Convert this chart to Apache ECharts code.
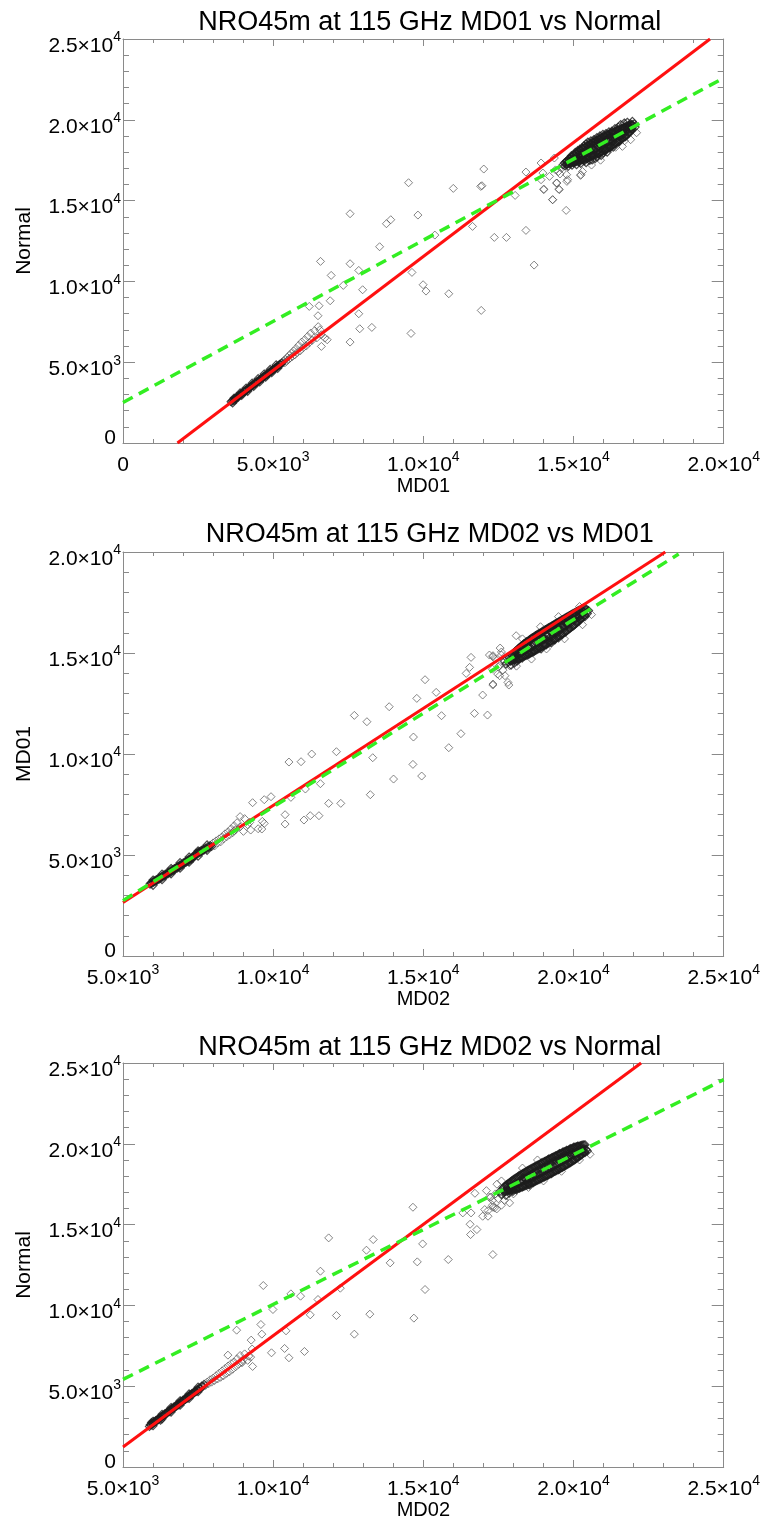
<!DOCTYPE html>
<html>
<head>
<meta charset="utf-8">
<script src="https://cdn.jsdelivr.net/npm/echarts@6/dist/echarts.min.js"></script>
<style>
html,body{margin:0;padding:0;background:#fff;}
#chart{width:763px;height:1523px;}
</style>
</head>
<body>
<div id="chart"></div>
<script>
// ---------------- Titles / axis names ----------------
const titles = ['NRO45m at 115 GHz MD01 vs Normal', 'NRO45m at 115 GHz MD02 vs MD01', 'NRO45m at 115 GHz MD02 vs Normal'];
const xNames = ['MD01', 'MD02', 'MD02'];
const yNames = ['Normal', 'MD01', 'Normal'];

// ---------------- Axis ranges and tick labels ----------------
const xRanges = [[0, 20000], [5000, 25000], [5000, 25000]];
const yRanges = [[0, 25000], [0, 20000], [0, 25000]];
const xTickValues = [[0, 5000, 10000, 15000, 20000], [5000, 10000, 15000, 20000, 25000], [5000, 10000, 15000, 20000, 25000]];
const xTickLabels = [['0', '5.0×10^3', '1.0×10^4', '1.5×10^4', '2.0×10^4'], ['5.0×10^3', '1.0×10^4', '1.5×10^4', '2.0×10^4', '2.5×10^4'], ['5.0×10^3', '1.0×10^4', '1.5×10^4', '2.0×10^4', '2.5×10^4']];
const yTickValues = [[0, 5000, 10000, 15000, 20000, 25000], [0, 5000, 10000, 15000, 20000], [0, 5000, 10000, 15000, 20000, 25000]];
const yTickLabels = [['0', '5.0×10^3', '1.0×10^4', '1.5×10^4', '2.0×10^4', '2.5×10^4'], ['0', '5.0×10^3', '1.0×10^4', '1.5×10^4', '2.0×10^4'], ['0', '5.0×10^3', '1.0×10^4', '1.5×10^4', '2.0×10^4', '2.5×10^4']];

// ---------------- Fit lines (end points) ----------------
const redLine1 = [[1813, 0], [19545, 25000]];
const greenLine1 = [[0, 2511], [20000, 22590]];
const redLine2 = [[5000, 2653], [23055, 20000]];
const greenLine2 = [[5000, 2742], [23500, 19900]];
const redLine3 = [[5000, 1236], [22250, 25000]];
const greenLine3 = [[5000, 5422], [25000, 23968]];

// ---------------- Plot 1: MD01 vs Normal ----------------
const p1Band = [[3600,2560],[3640,2610],[3680,2690],[3700,2620],[3730,2760],[3760,2780],[3790,2850],[3820,2800],[3850,2930],[3880,2950],[3900,2990],[3930,3020],[3960,3100],[3990,3060],[4020,3180],[4050,3170],[4080,3260],[4110,3280],[4140,3300],[4170,3400],[4200,3380],[4230,3470],[4260,3490],[4290,3530],[4320,3600],[4350,3590],[4380,3700],[4410,3690],[4440,3760],[4470,3810],[4500,3800],[4530,3900],[4560,3910],[4590,3960],[4620,4020],[4650,4010],[4680,4110],[4710,4120],[4740,4180],[4770,4230],[4800,4220],[4830,4320],[4860,4330],[4890,4390],[4920,4440],[4950,4430],[4980,4530],[5010,4540],[5040,4600],[5070,4650],[5100,4640],[5130,4740],[5160,4760],[5190,4800],[5220,4870],[5250,4850],[5280,4950],
[3650,2480],[3750,2700],[3950,2950],[4150,3200],[4350,3500],[4550,3780],[4750,4070],[4950,4350],[5150,4620],[3700,2780],[3900,3100],[4100,3400],[4300,3700],[4500,3980],[4700,4270],[4900,4550],[5100,4830]];
const p1Tail = [[5320,4980],[5350,5100],[5380,4950],[5410,5180],[5440,5050],[5470,5300],[5500,5150],[5530,5420],[5560,5250],[5600,5550],[5640,5350],[5680,5700],[5720,5450],[5760,5850],[5800,5600],[5850,6050],[5900,5700],[5950,6250],[6000,5900],[6050,6400],[6100,6000],[6150,6600],[6200,6200],[6250,6800],[6300,6350],[6380,6950],[6450,6500],[6500,7200],[6600,6700]];
const p1Blob = [[14650,17210],[14700,17330],[14720,17150],[14760,17420],[14790,17260],[14820,17120],
[14860,17600],[14880,17280],[14910,17450],[14930,17780],[14950,17190],[14980,17560],[15000,17350],[15010,17850],
[15040,17420],[15060,17980],[15080,17700],[15100,17220],[15120,17560],[15140,18100],[15160,17850],[15180,17400],[15200,17660],[15210,18180],
[15240,17300],[15260,17920],[15280,18250],[15300,17580],[15320,17780],[15340,18380],[15360,17450],[15380,18050],[15400,17880],[15410,18500],[15420,17350],
[15450,18200],[15460,17600],[15480,18620],[15500,17900],[15520,18350],[15540,17480],[15560,18100],[15580,18700],[15590,17750],[15600,18250],[15620,17520],
[15650,18450],[15660,17820],[15680,18780],[15700,18150],[15720,17600],[15740,18550],[15760,18000],[15780,18900],[15790,17700],[15800,18350],[15820,18650],
[15850,17900],[15860,18500],[15880,19000],[15900,18250],[15920,17800],[15940,18750],[15960,18450],[15980,19100],[15990,17950],[16000,18600],[16020,18250],
[16050,18900],[16060,18100],[16080,19150],[16100,18550],[16120,18000],[16140,18850],[16160,18400],[16180,19250],[16190,18250],[16200,18700],[16220,19000],
[16250,18350],[16260,18950],[16280,19300],[16300,18650],[16320,18300],[16340,19150],[16360,18850],[16380,19450],[16390,18550],[16400,19000],
[16450,18700],[16470,19350],[16490,19550],[16510,18950],[16530,18650],[16550,19250],[16570,19700],[16590,19050],[16600,18850],
[16650,19450],[16670,19100],[16690,19800],[16710,19300],[16730,18950],[16750,19600],[16770,19350],[16790,19850],
[16850,19500],[16870,19250],[16900,19750],[16930,19450],[16960,19900],[16990,19600],[17020,19750],[17050,19550]];
const p1Core = [[14760,17420],[14760,17250],[14800,17480],[14800,17290],[14840,17560],[14840,17300],[14880,17620],[14880,17330],[14920,17700],[14920,17340],[14960,17720],[14960,17380],[15000,17800],[15000,17370],[15040,17860],[15040,17400],[15080,17900],[15080,17410],[15120,17960],[15120,17430],[15160,18020],[15160,17460],[15200,18080],[15200,17480],[15240,18120],[15240,17500],[15280,18170],[15280,17520],[15320,18230],[15320,17540],[15360,18270],[15360,17560],[15400,18330],[15400,17600],[15440,18380],[15440,17610],[15480,18430],[15480,17650],[15520,18470],[15520,17680],[15560,18520],[15560,17700],[15600,18550],[15600,17740],[15640,18600],[15640,17760],[15680,18640],[15680,17800],[15720,18690],[15720,17820],[15760,18720],[15760,17860],[15800,18760],[15800,17900],[15840,18810],[15840,17930],[15880,18840],[15880,17970],[15920,18880],[15920,18010],[15960,18920],[15960,18050],[16000,18960],[16000,18090],[16040,18990],[16040,18140],[16080,19030],[16080,18170],[16120,19060],[16120,18220],[16160,19100],[16160,18260],[16200,19130],[16200,18310],[16240,19170],[16240,18350],[16280,19200],[16280,18400],[16320,19240],[16320,18440],[16360,19260],[16360,18500],[16400,19300],[16400,18540],[16440,19330],[16440,18600],[16480,19370],[16480,18640],[16520,19390],[16520,18700],[16560,19430],[16560,18750],[16600,19450],[16600,18810],[16640,19490],[16640,18860],[16680,19510],[16680,18930],[16720,19550],[16720,18980],[16760,19570],[16760,19050],[16800,19600],[16800,19110],[16840,19630],[16840,19180],[16880,19650],[16880,19250],[16920,19680],[16920,19320],[16960,19700],[16960,19400],
[14900,17470],[15100,17690],[15300,17860],[15500,18070],[15700,18280],[15900,18470],[16100,18680],[16300,18880],[16500,19080],[16700,19290],[16900,19470],[15000,17600],[15200,17750],[15400,17990],[15600,18180],[15800,18390],[16000,18560],[16200,18800],[16400,18960],[16600,19190],[16800,19360]];
const p1Out = [[9508,16106],[10997,15755],[11911,15879],[11950,15920],[12012,16952],[13416,16766],[13980,16705],[14303,15054],[14755,14394],[14010,15714],[14510,15714],[14430,16085],[13056,15322],[13416,13156],[13688,11010],[12363,12723],[12766,12723],[11637,13404],[7560,14188],[8770,13569],[8915,13816],[9819,14105],[8544,12145],[10383,12867],[6576,11238],[7560,11093],[7850,10680],[6931,10371],[7334,9752],[7979,9484],[6898,8803],[9621,10557],[9992,9793],[10089,9401],[10847,9236],[11927,8205],[6527,8494],[6202,8452],[6492,7875],[7850,7999],[7882,7070],[8285,7153],[7560,6245],[9589,6781],[6557,7008],[6718,6493],[6799,6389],[6605,5977],[14781,16189],[15233,16560],
[13919,17327],[13919,16293],[14009,15675],[14528,15675],[14307,15057],[15245,16603],[14803,16293],[14449,16089],[14770,16603],[16902,18769],[16626,18355],[14362,17636],
[14500,16800],[14600,17000],[14400,16900],[15300,16800],[15600,17200],[16400,18300],[16700,18700],[17100,19200],[15900,17500],[14200,16500],[14550,16650]];

// ---------------- Plot 2: MD02 vs MD01 ----------------
const p2Band = [[5900,3560],[5930,3620],[5960,3590],[5990,3670],[6020,3650],[6050,3720],[6080,3700],[6110,3780],[6140,3750],[6170,3830],[6200,3800],[6230,3890],[6260,3860],[6290,3940],[6320,3910],[6350,4000],[6380,3960],[6410,4050],[6440,4020],[6470,4110],[6500,4080],[6530,4160],[6560,4130],[6590,4220],[6620,4190],[6650,4270],[6680,4240],[6710,4330],[6740,4300],[6770,4380],[6800,4350],[6830,4440],[6860,4410],[6890,4500],[6920,4460],[6950,4550],[6980,4520],[7010,4610],[7040,4580],[7070,4660],[7100,4640],[7130,4720],[7160,4690],[7190,4780],[7220,4750],[7250,4830],[7280,4800],[7310,4890],[7340,4860],[7370,4940],
[7400,5000],[7430,5080],[7460,5040],[7490,5120],[7520,5090],[7550,5170],[7580,5140],[7610,5230],[7640,5190],[7670,5280],[7700,5250],[7740,5340],[7780,5300],[7820,5400],[7860,5370],[7900,5460],[7950,5420],
[6000,3500],[6000,3760],[6300,3780],[6300,4050],[6600,4070],[6600,4330],[6900,4350],[6900,4620],[7200,4640],[7200,4900],[7500,4940],[7500,5200],[7800,5230],[7800,5500]];
const p2Tail = [[8000,5600],[8050,5450],[8100,5700],[8150,5600],[8200,5800],[8250,5650],[8300,5900],[8350,5800],[8400,6050],[8450,5900],[8500,6150],[8550,6000],[8600,6300],[8650,6100],[8700,6450],[8750,6250],[8800,6600],[8900,6400],[9009,6170],[9251,6236],[9219,6615],[9315,7589],[9622,6286],[9639,6665],[9703,6566],[9703,7738],[9928,7886],[10397,6995],[10397,6533],[10590,7853],[9500,6300],[9050,6800],[8900,6900],[9150,6500],[8700,6200]];
const p2Blob = [[17700,14600],[17750,14450],[17780,14750],[17820,14550],[17860,14800],[17900,14620],[17920,14400],
[17960,14900],[18000,14700],[18030,14500],[18060,15050],[18090,14800],[18120,14600],[18150,15150],[18180,14950],[18200,14700],
[18240,15300],[18260,15000],[18290,14750],[18320,15200],[18350,15450],[18380,14900],[18400,15150],[18430,15550],[18460,15000],[18490,15300],
[18520,14950],[18550,15600],[18580,15250],[18600,15050],[18630,15750],[18660,15400],[18690,15100],[18720,15550],[18750,15850],[18780,15250],
[18800,15650],[18830,15300],[18860,15950],[18890,15600],[18920,15200],[18950,15800],[18980,16050],[19000,15450],[19030,15700],[19060,16150],
[19090,15400],[19120,15900],[19150,15600],[19180,16250],[19200,15750],[19230,16050],[19260,15500],[19290,16350],[19320,15850],[19350,16100],
[19380,15650],[19410,16450],[19440,16000],[19470,16250],[19500,15750],[19530,16550],[19560,16150],[19590,16400],[19620,15900],[19650,16650],
[19680,16250],[19710,16500],[19740,16050],[19770,16750],[19800,16400],[19830,16650],[19860,16200],[19890,16850],[19920,16500],[19950,16750],
[19980,16350],[20010,16950],[20040,16650],[20070,16850],[20100,16550],[20130,17050],[20160,16750],[20190,16950],[20220,16650],[20260,17150],
[20300,16900],[20340,17050],[20380,16800],[20420,17150],[20460,16950],[20500,17100]];
const p2Core = [[17900,14850],[17900,14600],[17940,14900],[17940,14620],[17980,14960],[17980,14640],[18020,15020],[18020,14650],[18060,15080],[18060,14670],[18100,15130],[18100,14690],[18140,15190],[18140,14700],[18180,15240],[18180,14730],[18220,15290],[18220,14750],[18260,15340],[18260,14780],[18300,15390],[18300,14800],[18340,15440],[18340,14830],[18380,15480],[18380,14860],[18420,15530],[18420,14880],[18460,15570],[18460,14910],[18500,15620],[18500,14940],[18540,15660],[18540,14970],[18580,15700],[18580,15000],[18620,15740],[18620,15030],[18660,15780],[18660,15060],[18700,15820],[18700,15100],[18740,15860],[18740,15130],[18780,15900],[18780,15160],[18820,15930],[18820,15200],[18860,15970],[18860,15230],[18900,16000],[18900,15270],[18940,16040],[18940,15300],[18980,16080],[18980,15340],[19020,16110],[19020,15370],[19060,16150],[19060,15410],[19100,16180],[19100,15440],[19140,16220],[19140,15480],[19180,16250],[19180,15520],[19220,16290],[19220,15550],[19260,16320],[19260,15590],[19300,16360],[19300,15630],[19340,16390],[19340,15660],[19380,16430],[19380,15700],[19420,16460],[19420,15740],[19460,16500],[19460,15780],[19500,16530],[19500,15820],[19540,16570],[19540,15860],[19580,16600],[19580,15900],[19620,16640],[19620,15940],[19660,16670],[19660,15980],[19700,16710],[19700,16020],[19740,16740],[19740,16060],[19780,16780],[19780,16110],[19820,16810],[19820,16150],[19860,16850],[19860,16200],[19900,16880],[19900,16240],[19940,16910],[19940,16290],[19980,16950],[19980,16330],[20020,16980],[20020,16380],[20060,17010],[20060,16430],[20100,17050],[20100,16480],[20140,17080],[20140,16530],[20180,17110],[20180,16580],[20220,17140],[20220,16640],[20260,17170],[20260,16700],[20300,17200],[20300,16760],[20340,17220],[20340,16820],[20380,17250],[20380,16880],
[18000,14820],[18200,15010],[18400,15200],[18600,15380],[18800,15560],[19000,15750],[19200,15930],[19400,16120],[19600,16300],[19800,16490],[20000,16680],[20200,16860],[18100,14900],[18300,15100],[18500,15290],[18700,15460],[18900,15660],[19100,15840],[19300,16030],[19500,16210],[19700,16400],[19900,16590],[20100,16770],[20300,16950]];
const p2Out = [[15056,13678],[14782,12753],[15427,13050],[13863,12341],[12702,11912],[13121,11598],[15605,11896],[14670,10840],[16250,11005],[15847,10312],[16588,14783],[16540,14288],[16427,13991],[17556,15245],[17314,14816],[17524,14370],[17475,13958],[17717,13876],[17314,13414],[17846,13414],[16975,12919],[16701,12011],[17136,11928],[12106,10113],[11283,9998],[10525,9602],[10928,9618],[13315,9816],[14653,9486],[14008,8760],[14944,8909],[13234,7985],[11073,8266],[11573,8530],[11848,7556],[12251,7556],[11234,6946],[11524,6946],[11025,6731],
[17318,13465],[17815,13545],[17540,13876],[17871,14371],[17318,14866],[18090,15856],[17600,15050],
[17400,14700],[17500,14300],[17600,14900],[17300,14200],[17650,14150],[18100,14350],[18600,14700],[19100,15200],[19700,15700],[20300,16400],[20600,16900],[17200,14900],[18300,15700],[18900,16300],[19500,16800],[20200,17300]];

// ---------------- Plot 3: MD02 vs Normal ----------------
const p3Band = [[5880,2510],[5910,2620],[5940,2600],[5970,2700],[6000,2680],[6030,2790],[6060,2770],[6090,2870],[6120,2850],[6150,2950],[6180,2930],[6210,3040],[6240,3010],[6270,3120],[6300,3100],[6330,3200],[6360,3180],[6390,3290],[6420,3260],[6450,3370],[6480,3350],[6510,3450],[6540,3430],[6570,3540],[6600,3510],[6630,3620],[6660,3600],[6690,3710],[6720,3680],[6750,3790],[6780,3760],[6810,3870],[6840,3850],[6870,3960],[6900,3930],[6930,4040],[6960,4010],[6990,4120],[7020,4100],[7050,4210],[7080,4180],[7110,4290],[7140,4260],[7170,4370],[7200,4350],[7230,4460],[7260,4430],[7290,4540],[7320,4510],[7350,4620],[7380,4600],[7410,4710],[7440,4680],[7470,4790],[7500,4760],[7540,4890],[7580,4870],[7620,5000],[7660,4980],[7700,5110],
[6000,2560],[6000,2830],[6300,2980],[6300,3260],[6600,3400],[6600,3680],[6900,3820],[6900,4100],[7200,4240],[7200,4520],[7500,4660],[7500,4940],[5950,2750],[6250,2900]];
const p3Tail = [[7750,5050],[7800,5250],[7850,5150],[7900,5400],[7950,5250],[8000,5500],[8050,5350],[8100,5650],[8150,5450],[8200,5800],[8250,5550],[8300,5950],[8350,5650],[8400,6100],[8450,5800],[8500,6250],[8550,5900],[8600,6400],[8650,6050],[8700,6500],[8750,6200],[8800,6700],[8850,6350],[8900,6900],[8950,6500],[9000,6650],[9050,7000],[9150,6600],[9250,6800],[9300,7300]];
const p3Blob = [[17550,17050],[17600,16850],[17650,17250],[17700,17000],[17750,16800],[17780,17400],[17820,17150],[17860,16950],
[17900,17550],[17940,17300],[17980,17050],[18020,17700],[18060,17400],[18100,17150],[18140,17850],[18180,17550],[18200,17250],
[18240,18000],[18270,17700],[18300,17350],[18330,17900],[18360,18150],[18390,17500],[18420,17800],[18450,18300],[18480,17600],[18510,18000],
[18540,17450],[18570,18400],[18600,17850],[18630,18150],[18660,17600],[18690,18550],[18720,18000],[18750,18300],[18780,17750],[18810,18650],
[18840,18100],[18870,18450],[18900,17850],[18930,18800],[18960,18250],[18990,18550],[19020,17950],[19050,18900],[19080,18350],[19110,18700],
[19140,18050],[19170,19050],[19200,18500],[19230,18800],[19260,18150],[19290,19150],[19320,18600],[19350,18950],[19380,18300],[19410,19250],
[19440,18750],[19470,19050],[19500,18400],[19530,19400],[19560,18850],[19590,19150],[19620,18550],[19650,19500],[19680,19000],[19710,19300],
[19740,18700],[19770,19600],[19800,19100],[19830,19400],[19860,18850],[19890,19700],[19920,19250],[19950,19500],[19980,19000],[20010,19800],
[20040,19350],[20070,19600],[20100,19150],[20130,19850],[20160,19450],[20190,19650],[20220,19300],[20260,19750],[20300,19500],[20340,19700],[20380,19450],[20420,19650],[20460,19550]];
const p3Core = [[17700,17350],[17700,17050],[17740,17410],[17740,17060],[17780,17470],[17780,17080],[17820,17530],[17820,17090],[17860,17590],[17860,17110],[17900,17650],[17900,17120],[17940,17700],[17940,17140],[17980,17760],[17980,17160],[18020,17810],[18020,17180],[18060,17860],[18060,17200],[18100,17910],[18100,17220],[18140,17960],[18140,17240],[18180,18010],[18180,17260],[18220,18060],[18220,17290],[18260,18100],[18260,17310],[18300,18150],[18300,17340],[18340,18190],[18340,17370],[18380,18240],[18380,17400],[18420,18280],[18420,17430],[18460,18330],[18460,17460],[18500,18370],[18500,17490],[18540,18410],[18540,17520],[18580,18450],[18580,17560],[18620,18490],[18620,17590],[18660,18530],[18660,17620],[18700,18570],[18700,17660],[18740,18610],[18740,17690],[18780,18650],[18780,17730],[18820,18690],[18820,17770],[18860,18730],[18860,17800],[18900,18770],[18900,17840],[18940,18810],[18940,17880],[18980,18850],[18980,17910],[19020,18890],[19020,17950],[19060,18930],[19060,17990],[19100,18960],[19100,18030],[19140,19000],[19140,18060],[19180,19040],[19180,18100],[19220,19080],[19220,18140],[19260,19110],[19260,18180],[19300,19150],[19300,18220],[19340,19190],[19340,18260],[19380,19220],[19380,18300],[19420,19260],[19420,18340],[19460,19300],[19460,18380],[19500,19330],[19500,18420],[19540,19370],[19540,18460],[19580,19400],[19580,18500],[19620,19440],[19620,18540],[19660,19470],[19660,18580],[19700,19510],[19700,18620],[19740,19540],[19740,18660],[19780,19570],[19780,18710],[19820,19600],[19820,18750],[19860,19640],[19860,18800],[19900,19670],[19900,18840],[19940,19700],[19940,18890],[19980,19730],[19980,18940],[20020,19760],[20020,18990],[20060,19790],[20060,19040],[20100,19810],[20100,19090],[20140,19840],[20140,19140],[20180,19860],[20180,19200],[20220,19880],[20220,19260],[20260,19900],[20260,19320],[20300,19920],[20300,19380],[20340,19930],[20340,19440],[20380,19940],[20380,19500],
[17800,17290],[18000,17470],[18200,17660],[18400,17840],[18600,18030],[18800,18220],[19000,18400],[19200,18590],[19400,18770],[19600,18960],[19800,19140],[20000,19330],[20200,19510],[17900,17380],[18100,17570],[18300,17750],[18500,17940],[18700,18120],[18900,18310],[19100,18490],[19300,18680],[19500,18860],[19700,19050],[19900,19240],[20100,19420],[20300,19600]];
const p3Out = [[14653,16074],[11848,14178],[13331,14074],[13105,13415],[13895,12632],[14976,13807],[14798,12694],[15830,12838],[15056,10983],[14685,9211],[13218,9458],[12702,8221],[12106,9375],[11234,9416],[11573,12117],[12235,11065],[11492,10365],[10912,10571],[10590,10715],[9671,11230],[9993,9746],[9590,8819],[9622,8221],[8784,8468],[10428,8427],[9944,7067],[10380,7335],[10525,6758],[11041,7149],[9315,6222],[9186,6861],[9267,7851],[8493,6922],[8961,6449],[16588,15723],[16782,14693],[16572,14384],[16556,15022],[16717,16939],[16314,15723],[17153,15867],[16975,15517],[17314,16074],[17443,15970],[17314,13147],
[17043,15930],[17374,16035],[17153,15518],[17871,16344],[17600,16200],[17250,16700],
[17300,16500],[17400,16900],[17200,16700],[17500,16600],[17100,17100],[17450,17500],[17600,17700],[18000,16900],[18500,17300],[19000,17700],[19600,18300],[20200,19000],[20550,19350],[18300,18500],[18800,19000],[17300,16200],[17700,16500]];

// ---------------- Build chart ----------------
const FONT = '"Liberation Sans", Arial, Helvetica, sans-serif';
const AXIS_COLOR = '#8a8a8a';
const gridTops = [39, 552, 1063];
const titleTops = [4, 516, 1029];
const sparseSets = [[p1Tail, p1Out], [p2Tail, p2Out], [p3Tail, p3Out]];
const denseSets = [[p1Band, p1Blob, p1Core], [p2Band, p2Blob, p2Core], [p3Band, p3Blob, p3Core]];
const redLines = [redLine1, redLine2, redLine3];
const greenLines = [greenLine1, greenLine2, greenLine3];

const richX = {
  m: {fontSize: 21, fontFamily: FONT, color: '#000', padding: [6, 0, 0, 0]},
  e: {fontSize: 14, fontFamily: FONT, color: '#000', verticalAlign: 'top', padding: [1, 0, 0, 0]},
  zx: {fontSize: 21, fontFamily: FONT, color: '#000', padding: [6, 0, 0, 0]}
};
const richY = {
  m: {fontSize: 21, fontFamily: FONT, color: '#000', padding: [14, 0, 0, 0]},
  e: {fontSize: 14, fontFamily: FONT, color: '#000', verticalAlign: 'top', padding: [9, 0, 0, 0]},
  zy: {fontSize: 21, fontFamily: FONT, color: '#000', padding: [0, 5, 10, 0]}
};

function makeFormatter(values, labels, isY) {
  return function (v) {
    let idx = -1;
    for (let k = 0; k < values.length; k++) if (Math.abs(values[k] - v) < 1e-6) idx = k;
    if (idx < 0) return '';
    const s = labels[idx];
    if (s.indexOf('^') < 0) return (isY ? '{zy|' : '{zx|') + s + '}';
    const parts = s.split('^');
    return '{m|' + parts[0] + '}{e|' + parts[1] + '}';
  };
}

const grid = [], xAxis = [], yAxis = [], series = [], title = [];
for (let i = 0; i < 3; i++) {
  grid.push({left: 123, top: gridTops[i], width: 603.5, height: 404, containLabel: false});
  title.push({text: titles[i], left: 424.75, top: titleTops[i], textAlign: 'center',
    textStyle: {fontSize: 27, fontWeight: 'normal', color: '#000', fontFamily: FONT}});
  const common = {
    gridIndex: i, type: 'value', interval: 5000,
    splitLine: {show: false}, minorSplitLine: {show: false}
  };
  xAxis.push(Object.assign({}, common, {
    min: xRanges[i][0], max: xRanges[i][1], position: 'bottom',
    axisLine: {show: true, onZero: false, lineStyle: {color: AXIS_COLOR, width: 1}},
    axisTick: {show: true, inside: true, length: 7, lineStyle: {color: AXIS_COLOR}},
    minorTick: {show: true, splitNumber: 5, length: 4, lineStyle: {color: AXIS_COLOR}},
    axisLabel: {show: true, margin: 6, showMinLabel: true, showMaxLabel: true,
      formatter: makeFormatter(xTickValues[i], xTickLabels[i], false), rich: richX},
    name: xNames[i], nameLocation: 'middle', nameGap: 33,
    nameTextStyle: {fontSize: 20, color: '#000', fontFamily: FONT}
  }));
  xAxis.push(Object.assign({}, common, {
    min: xRanges[i][0], max: xRanges[i][1], position: 'top',
    axisLine: {show: true, onZero: false, lineStyle: {color: AXIS_COLOR, width: 1}},
    axisTick: {show: true, inside: true, length: 7, lineStyle: {color: AXIS_COLOR}},
    minorTick: {show: true, splitNumber: 5, length: 4, lineStyle: {color: AXIS_COLOR}},
    axisLabel: {show: false}
  }));
  yAxis.push(Object.assign({}, common, {
    min: yRanges[i][0], max: yRanges[i][1], position: 'left',
    axisLine: {show: true, onZero: false, lineStyle: {color: AXIS_COLOR, width: 1}},
    axisTick: {show: true, inside: true, length: 12, lineStyle: {color: AXIS_COLOR}},
    minorTick: {show: true, splitNumber: 5, length: 6, lineStyle: {color: AXIS_COLOR}},
    axisLabel: {show: true, margin: 2, showMinLabel: true, showMaxLabel: true,
      formatter: makeFormatter(yTickValues[i], yTickLabels[i], true), rich: richY},
    name: yNames[i], nameLocation: 'middle', nameGap: 88, nameRotate: 90,
    nameTextStyle: {fontSize: 21, color: '#000', fontFamily: FONT}
  }));
  yAxis.push(Object.assign({}, common, {
    min: yRanges[i][0], max: yRanges[i][1], position: 'right',
    axisLine: {show: true, onZero: false, lineStyle: {color: AXIS_COLOR, width: 1}},
    axisTick: {show: true, inside: true, length: 12, lineStyle: {color: AXIS_COLOR}},
    minorTick: {show: true, splitNumber: 5, length: 6, lineStyle: {color: AXIS_COLOR}},
    axisLabel: {show: false}
  }));
  series.push({
    type: 'scatter', xAxisIndex: 2 * i, yAxisIndex: 2 * i,
    data: [].concat(sparseSets[i][0], sparseSets[i][1]),
    symbol: 'diamond', symbolSize: 8, silent: true,
    itemStyle: {color: 'rgba(255,255,255,0)', borderColor: '#555', borderWidth: 0.9}
  });
  series.push({
    type: 'scatter', xAxisIndex: 2 * i, yAxisIndex: 2 * i,
    data: [].concat(denseSets[i][0], denseSets[i][1], denseSets[i][2]),
    symbol: 'diamond', symbolSize: 8, silent: true,
    itemStyle: {color: 'rgba(255,255,255,0)', borderColor: '#1e1e1e', borderWidth: 1.2}
  });
  series.push({
    type: 'line', xAxisIndex: 2 * i, yAxisIndex: 2 * i, data: redLines[i],
    symbol: 'none', silent: true, clip: true,
    lineStyle: {color: '#ff1010', width: 3}
  });
  series.push({
    type: 'line', xAxisIndex: 2 * i, yAxisIndex: 2 * i, data: greenLines[i],
    symbol: 'none', silent: true, clip: true,
    lineStyle: {color: '#33ee22', width: 3.5, type: [11, 7]}
  });
}

const chart = echarts.init(document.getElementById('chart'), null, {renderer: 'canvas'});
chart.setOption({animation: false, backgroundColor: '#fff', title, grid, xAxis, yAxis, series});
</script>
</body>
</html>
